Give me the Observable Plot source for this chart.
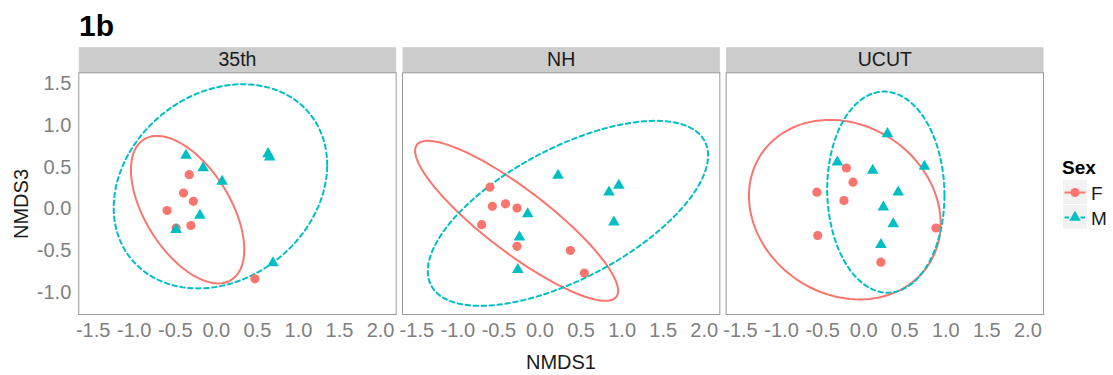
<!DOCTYPE html>
<html><head><meta charset="utf-8">
<script src="https://cdn.jsdelivr.net/npm/d3@7"></script>
<script src="https://cdn.jsdelivr.net/npm/@observablehq/plot@0.6"></script>
<style>
body{margin:0;background:#fff;font-family:"Liberation Sans",Arial,Helvetica,sans-serif;}
#wrap{position:relative;width:1113px;height:375px;overflow:hidden;background:#fff}
#title{position:absolute;left:79px;top:11px;font-weight:bold;font-size:30px;line-height:30px;color:#000}
#chart{position:absolute;left:0;top:40px}
#overlay{position:absolute;left:0;top:0;pointer-events:none}
</style></head>
<body><div id="wrap"><div id="title">1b</div><div id="chart"></div><svg id="overlay" width="1113" height="375"></svg></div>
<script>
// ---- data ----
const sites = ["35th", "NH", "UCUT"];
const sexes = ["F", "M"];
const sexColors = ["#F8766D", "#00BFC4"];
const xTicks = [-1.5, -1.0, -0.5, 0.0, 0.5, 1.0, 1.5, 2.0];
const yTicks = [-1.0, -0.5, 0.0, 0.5, 1.0, 1.5];

// NMDS scores per site and sex
const x35F = [-0.33, -0.40, -0.28, -0.60, -0.49, -0.31, 0.47];
const y35F = [0.41, 0.19, 0.09, -0.02, -0.23, -0.20, -0.84];
const x35M = [-0.37, -0.16, 0.07, -0.20, -0.49, 0.63, 0.65, 0.69];
const y35M = [0.64, 0.49, 0.33, -0.08, -0.25, 0.66, 0.62, -0.65];

const xNHF = [-0.61, -0.58, -0.42, -0.28, -0.71, -0.28, 0.37, 0.54];
const yNHF = [0.26, 0.03, 0.06, 0.01, -0.19, -0.45, -0.50, -0.77];
const xNHM = [0.22, 0.96, 0.84, -0.15, 0.90, -0.25, -0.27];
const yNHM = [0.40, 0.28, 0.20, -0.06, -0.16, -0.34, -0.73];

const xUCF = [-0.21, -0.13, -0.57, -0.24, -0.56, 0.88, 0.21];
const yUCF = [0.49, 0.32, 0.20, 0.10, -0.32, -0.23, -0.64];
const xUCM = [0.29, -0.32, 0.11, 0.74, 0.42, 0.24, 0.36, 0.21];
const yUCM = [0.90, 0.56, 0.46, 0.51, 0.20, 0.02, -0.18, -0.43];

// 95% ellipses: centre, half extents along x and y, correlation
const ellSite = ["35th", "35th", "NH", "NH", "UCUT", "UCUT"];
const ellSex  = ["F", "M", "F", "M", "F", "M"];
const ellCx   = [-0.35, 0.05, -0.285, 0.34, -0.23, 0.27];
const ellCy   = [-0.01, 0.27, -0.144, -0.054, -0.01, 0.20];
const ellSx   = [0.69, 1.30, 1.236, 1.707, 1.167, 0.714];
const ellSy   = [0.885, 1.225, 0.96, 1.11, 1.077, 1.207];
const ellR    = [-0.54, 0.21, -0.874, 0.625, -0.154, -0.03];

// ---- build tables ----
const groups = [
  ["35th", "F", x35F, y35F], ["35th", "M", x35M, y35M],
  ["NH", "F", xNHF, yNHF], ["NH", "M", xNHM, yNHM],
  ["UCUT", "F", xUCF, yUCF], ["UCUT", "M", xUCM, yUCM]
];
const points = [];
for (const sex of sexes) for (const [site, s, xs, ys] of groups) if (s === sex)
  xs.forEach((x, i) => points.push({site, sex, x, y: ys[i]}));

const ellRows = [];
ellSite.forEach((site, k) => {
  const r = ellR[k], q = Math.sqrt(1 - r * r);
  for (let a = 0; a <= 360; a += 3) {
    const t = a * Math.PI / 180;
    ellRows.push({site, sex: ellSex[k], id: k,
      x: ellCx[k] + ellSx[k] * Math.cos(t),
      y: ellCy[k] + ellSy[k] * (r * Math.cos(t) + q * Math.sin(t))});
  }
});

const fmt = d => d.toFixed(1);
const H = 335, mT = 32.3, mB = 61;
const panelH = H - mT - mB;

const chart = Plot.plot({
  width: 1113, height: H,
  marginLeft: 78.3, marginRight: 70, marginTop: mT, marginBottom: mB,
  style: {fontFamily: "Liberation Sans, Arial, sans-serif", fontSize: "20px", background: "white", overflow: "visible"},
  fx: {domain: sites, paddingInner: 6.3 / 324, paddingOuter: 0, round: false, axis: null, label: null},
  x: {domain: [-1.675, 2.19], label: null},
  y: {domain: [-1.268, 1.632], label: null},
  color: {domain: sexes, range: sexColors},
  marks: [
    Plot.frame({fill: "#CCCCCC", stroke: null, insetTop: -25.6, insetBottom: panelH}),
    Plot.text(sites, {fx: d => d, text: d => d, frameAnchor: "top", dy: -12.8, lineAnchor: "middle", fontSize: 19.5, fill: "#1a1a1a"}),
    Plot.frame({stroke: "#9a9a9a", strokeWidth: 1}),
    Plot.axisX({ticks: xTicks, tickFormat: fmt, tickSize: 0, tickPadding: 8, color: "#7f7f7f", fontSize: 20, label: null}),
    Plot.axisY({ticks: yTicks, tickFormat: fmt, tickSize: 0, tickPadding: 7.5, color: "#7f7f7f", fontSize: 20, label: null}),
    Plot.line(ellRows.filter(d => d.sex === "F"), {fx: "site", x: "x", y: "y", z: "id", stroke: "sex", strokeWidth: 2}),
    Plot.line(ellRows.filter(d => d.sex === "M"), {fx: "site", x: "x", y: "y", z: "id", stroke: "sex", strokeWidth: 2, strokeDasharray: "4.5,3.5"}),
    Plot.dot(points.filter(d => d.sex === "F"), {fx: "site", x: "x", y: "y", fill: "sex", r: 4.6, symbol: "circle"}),
    Plot.dot(points.filter(d => d.sex === "M"), {fx: "site", x: "x", y: "y", fill: "sex", r: 4.3, symbol: "triangle"})
  ]
});
document.getElementById("chart").appendChild(chart);

// axis titles and legend
const ov = d3.select("#overlay");
const font = "Liberation Sans, Arial, sans-serif";
ov.append("text").attr("x", 561).attr("y", 369).attr("text-anchor", "middle")
  .attr("font-family", font).attr("font-size", 20).attr("fill", "#1a1a1a").text("NMDS1");
ov.append("text").attr("transform", "translate(28,204) rotate(-90)").attr("text-anchor", "middle")
  .attr("font-family", font).attr("font-size", 20).attr("fill", "#1a1a1a").text("NMDS3");

const lg = ov.append("g");
lg.append("text").attr("x", 1062).attr("y", 174).attr("font-family", font).attr("font-size", 19)
  .attr("font-weight", "bold").attr("fill", "#000").text("Sex");
sexes.forEach((s, i) => {
  const y0 = 180 + i * 25, cy = y0 + 12.5;
  lg.append("rect").attr("x", 1063).attr("y", y0).attr("width", 24).attr("height", 24).attr("fill", "#F2F2F2");
  lg.append("line").attr("x1", 1064.5).attr("x2", 1085.5).attr("y1", cy).attr("y2", cy)
    .attr("stroke", sexColors[i]).attr("stroke-width", 2).attr("stroke-dasharray", i ? "4.5,3.5" : null);
  if (i === 0) lg.append("circle").attr("cx", 1075).attr("cy", cy).attr("r", 4.6).attr("fill", sexColors[i]);
  else lg.append("path").attr("transform", `translate(1075,${cy})`)
    .attr("d", d3.symbol(d3.symbolTriangle, Math.PI * 4.3 * 4.3)()).attr("fill", sexColors[i]);
  lg.append("text").attr("x", 1091).attr("y", cy + 7).attr("font-family", font).attr("font-size", 19)
    .attr("fill", "#1a1a1a").text(s);
});
</script>
</body></html>
